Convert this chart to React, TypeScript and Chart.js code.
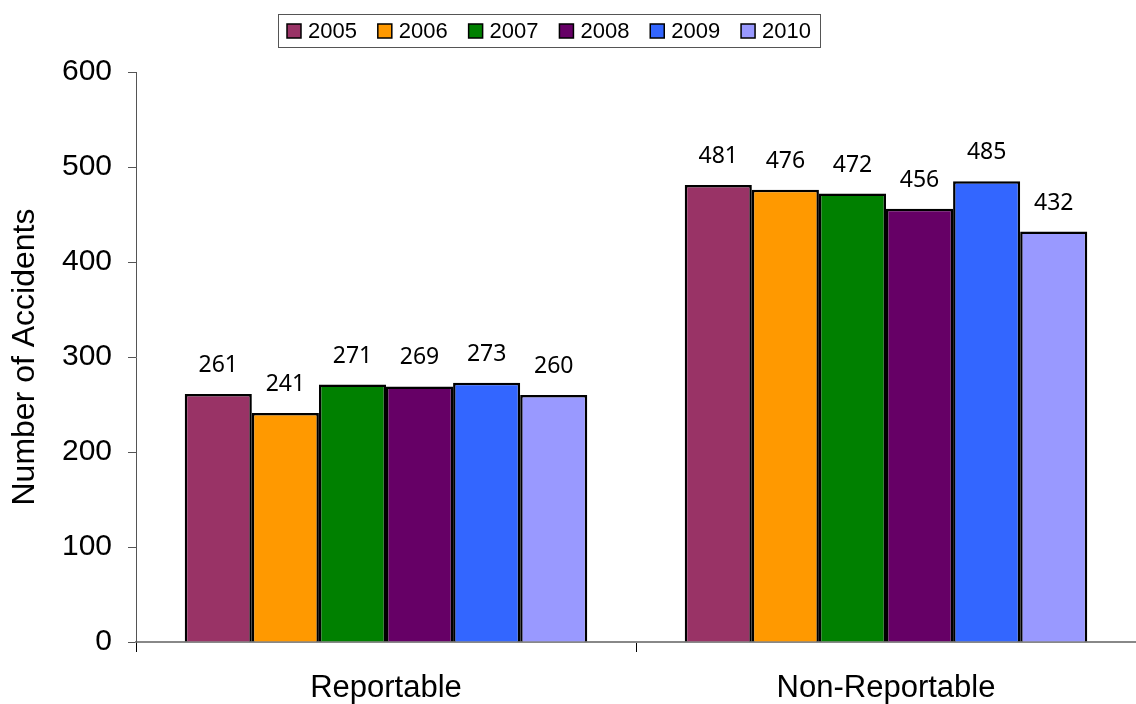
import React, { useEffect, useRef } from 'react';
import { Chart, registerables } from 'chart.js';

Chart.register(...registerables);

const categories = ['Reportable', 'Non-Reportable'];
const years = ['2005', '2006', '2007', '2008', '2009', '2010'];
const values2005 = [261, 481];
const values2006 = [241, 476];
const values2007 = [271, 472];
const values2008 = [269, 456];
const values2009 = [273, 485];
const values2010 = [260, 432];
const seriesValues = [values2005, values2006, values2007, values2008, values2009, values2010];
const colors = ['#993366', '#FF9900', '#008000', '#660066', '#3366FF', '#9999FF'];
const yTicks = [0, 100, 200, 300, 400, 500, 600];

const SANS = '"Liberation Sans", Arial, sans-serif';

const valueLabelPlugin = {
  id: 'valueLabels',
  afterDatasetsDraw(chart: any) {
    const { ctx } = chart;
    ctx.save();
    ctx.font = '23px "Noto Sans", sans-serif';
    ctx.fillStyle = '#000';
    ctx.textAlign = 'center';
    ctx.textBaseline = 'alphabetic';
    chart.data.datasets.forEach((ds: any, i: number) => {
      const meta = chart.getDatasetMeta(i);
      meta.data.forEach((el: any, j: number) => {
        ctx.fillText(String(ds.data[j]), el.x, el.y - 22);
      });
    });
    ctx.restore();
  },
};

const boxedLegendPlugin = {
  id: 'boxedLegend',
  afterDraw(chart: any) {
    const { ctx } = chart;
    const ds = chart.data.datasets;
    ctx.save();
    ctx.font = `22px ${SANS}`;
    const box = 14;
    const gapBoxText = 7;
    const padX = 9;
    const frameLeft = 278;
    const frameTop = 14;
    const frameH = 33;
    const frameW = 542;
    const widths = ds.map((d: any) => ctx.measureText(d.label).width);
    const itemsW = widths.reduce((a: number, w: number) => a + box + gapBoxText + w, 0);
    const gapItems = (frameW - padX * 2 - itemsW) / (ds.length - 1);
    ctx.strokeStyle = '#555';
    ctx.lineWidth = 1;
    ctx.strokeRect(frameLeft + 0.5, frameTop + 0.5, frameW, frameH);
    let x = frameLeft + padX;
    const cy = frameTop + frameH / 2 + 0.5;
    ds.forEach((d: any, i: number) => {
      ctx.fillStyle = d.backgroundColor;
      ctx.fillRect(x, cy - box / 2, box, box);
      ctx.strokeStyle = '#000';
      ctx.lineWidth = 1.5;
      ctx.strokeRect(x, cy - box / 2, box, box);
      ctx.fillStyle = '#000';
      ctx.textAlign = 'left';
      ctx.textBaseline = 'middle';
      ctx.fillText(d.label, x + box + gapBoxText, cy + 1);
      x += box + gapBoxText + widths[i] + gapItems;
    });
    ctx.restore();
  },
};

export default function App() {
  const canvasRef = useRef<HTMLCanvasElement | null>(null);

  useEffect(() => {
    const canvas = canvasRef.current;
    if (!canvas) return;
    const chart = new Chart(canvas, {
      type: 'bar',
      data: {
        labels: categories,
        datasets: years.map((y, i) => ({
          label: y,
          data: seriesValues[i],
          backgroundColor: colors[i],
          borderColor: '#000',
          borderWidth: 2.5,
          categoryPercentage: 0.805,
          barPercentage: 1.0,
        })),
      },
      options: {
        responsive: false,
        animation: false,
        devicePixelRatio: 1,
        layout: { padding: { top: 72, right: 0, left: 0, bottom: 0 } },
        plugins: {
          legend: { display: false },
          tooltip: { enabled: false },
          title: { display: false },
        },
        scales: {
          x: {
            afterFit: (s: any) => { s.height = 62; },
            grid: {
              offset: true,
              drawOnChartArea: false,
              drawTicks: true,
              tickLength: 10,
              color: '#000',
            },
            border: { display: true, color: '#888', width: 2 },
            ticks: {
              color: '#000',
              font: { family: SANS, size: 31 },
              padding: 18,
            },
          },
          y: {
            min: 0,
            max: 600,
            afterFit: (s: any) => { s.width = 136; },
            afterBuildTicks: (s: any) => { s.ticks = yTicks.map((v) => ({ value: v })); },
            grid: {
              drawOnChartArea: false,
              drawTicks: true,
              tickLength: 8,
              color: '#555',
            },
            border: { display: true, color: '#555', width: 1 },
            ticks: {
              color: '#000',
              font: { family: SANS, size: 30 },
              padding: 16,
            },
            title: {
              display: true,
              text: 'Number of Accidents',
              color: '#000',
              font: { family: SANS, size: 32 },
              padding: { top: 6, bottom: 0 },
            },
          },
        },
      },
      plugins: [valueLabelPlugin, boxedLegendPlugin],
    });
    return () => chart.destroy();
  }, []);

  return (
    <div style={{ position: 'fixed', left: 0, top: 0, width: 1136, height: 704, background: '#fff' }}>
      <canvas ref={canvasRef} width={1136} height={704} style={{ width: 1136, height: 704, display: 'block' }} />
    </div>
  );
}
